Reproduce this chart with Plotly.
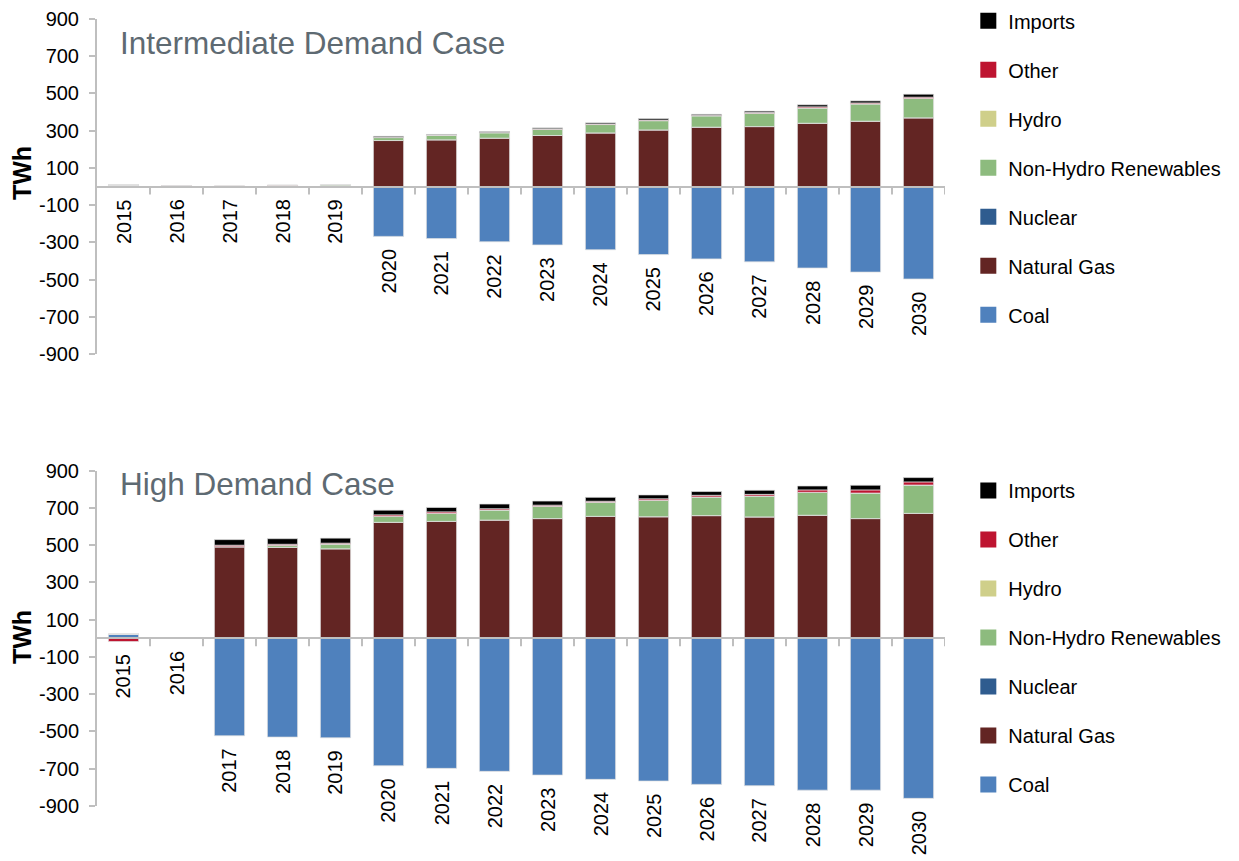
import plotly.graph_objects as go
from plotly.subplots import make_subplots

years = [2015, 2016, 2017, 2018, 2019, 2020, 2021, 2022,
         2023, 2024, 2025, 2026, 2027, 2028, 2029, 2030]
y_ticks = [900, 700, 500, 300, 100, -100, -300, -500, -700, -900]

series_names = ["Coal", "Natural Gas", "Nuclear", "Non-Hydro Renewables", "Hydro", "Other", "Imports"]
series_colors = ["#4F81BD", "#632523", "#2F5C8F", "#8DBB7E", "#CFCF8A", "#BE1430", "#000000"]

# Intermediate Demand Case (TWh)
coal_i = [8, 0, 0, 0, 0, -268, -280, -297, -314, -340, -366, -389, -405, -438, -460, -497]
gas_i = [0, 0, 0, 0, 0, 247, 251, 260, 274, 288, 304, 319, 322, 340, 351, 369]
nuclear_i = [0, 3, 0, 0, 3, 0, 0, 0, 0, 0, 0, 0, 0, 0, 0, 0]
nonhydro_i = [0, 0, 0, 4, 6, 16, 25, 29, 34, 45, 50, 61, 72, 82, 93, 104]
hydro_i = [0, 0, 0, 0, 0, 0, 0, 0, 0, 0, 0, 0, 0, 0, 0, 0]
other_i = [-3, 2, 3, 3, -2, 2, 1, 2, 2, 3, 3, 3, 4, 6, 5, 7]
imports_i = [0, 0, 0, 0, 0, 5, 3, 4, 5, 6, 8, 5, 7, 11, 11, 16]

# High Demand Case (TWh)
coal_h = [22, 0, -523, -530, -534, -684, -698, -714, -734, -757, -766, -784, -791, -815, -815, -859]
gas_h = [0, 0, 492, 489, 481, 623, 628, 635, 643, 655, 653, 659, 652, 661, 643, 671]
nuclear_h = [0, 0, 0, 0, 0, 0, 0, 0, 0, 0, 0, 0, 0, 0, 0, 0]
nonhydro_h = [0, 0, 0, 10, 25, 32, 43, 54, 66, 75, 88, 100, 112, 123, 137, 152]
hydro_h = [0, 0, 0, 0, 0, 0, 0, 0, 0, 0, 0, 0, 0, 0, 0, 0]
other_h = [-17, 4, 8, 6, 5, 8, 8, 7, 6, 6, 8, 9, 9, 13, 17, 17]
imports_h = [0, 0, 30, 30, 27, 25, 24, 25, 22, 21, 21, 20, 22, 21, 25, 23]

panels = [
    ("Intermediate Demand Case", [coal_i, gas_i, nuclear_i, nonhydro_i, hydro_i, other_i, imports_i]),
    ("High Demand Case", [coal_h, gas_h, nuclear_h, nonhydro_h, hydro_h, other_h, imports_h]),
]

W, H = 1239, 861
ML, MR, MT, MB = 97, 294, 19, 55
plot_w = W - ML - MR
plot_h = H - MT - MB
top_dom = [(806 - 354) / plot_h, 1.0]
bot_dom = [0.0, (806 - 470.7) / plot_h]
Y_RANGE = [-900, 900]

FONT = "Liberation Sans, Arial, sans-serif"
GREY = "#BFBFBF"
TICK_PX = 8

fig = make_subplots(rows=2, cols=1)

for p, (title, data) in enumerate(panels):
    row = p + 1
    dom = top_dom if p == 0 else bot_dom
    units_per_px = (Y_RANGE[1] - Y_RANGE[0]) / ((dom[1] - dom[0]) * plot_h)
    legend_id = "legend" if p == 0 else "legend2"
    for name, color, vals in zip(series_names, series_colors, data):
        fig.add_trace(go.Bar(x=years, y=vals, name=name, marker_color=color,
                             marker_line=dict(color="rgba(225,225,225,0.9)", width=0.8),
                             showlegend=False), row=row, col=1)
    # x-axis tick marks on the boundaries between years, hanging below the zero line
    tick_x, tick_y = [], []
    for yr in years:
        tick_x += [yr + 0.5, yr + 0.5, None]
        tick_y += [0, -TICK_PX * units_per_px, None]
    fig.add_trace(go.Scatter(x=tick_x, y=tick_y, mode="lines",
                             line=dict(color=GREY, width=2), hoverinfo="skip",
                             showlegend=False, cliponaxis=False), row=row, col=1)
    # legend entries (larger square swatches), listed top-down as in the reference
    for name, color in reversed(list(zip(series_names, series_colors))):
        fig.add_trace(go.Scatter(x=[years[0]], y=[None], mode="markers", name=name,
                                 marker=dict(symbol="square", size=20, color=color),
                                 legend=legend_id, legendgroup=f"{legend_id}-{name}",
                                 hoverinfo="skip", showlegend=True), row=row, col=1)
    xa = "x" if p == 0 else "x2"
    ya = "y" if p == 0 else "y2"
    for k, yr in enumerate(years):
        # year labels below each bar's lowest point
        neg = sum(min(0, d[k]) for d in data)
        fig.add_annotation(x=yr, y=min(0, neg), xref=xa, yref=ya, text=str(yr),
                           textangle=-90, showarrow=False, xanchor="center", yanchor="top",
                           yshift=-10, font=dict(family=FONT, size=20, color="#000000"))
    # panel title
    fig.add_annotation(x=(118 - ML) / plot_w, y=0.928 if p == 0 else 0.960,
                       xref=f"{xa} domain", yref=f"{ya} domain", text=title, showarrow=False,
                       xanchor="left", yanchor="middle",
                       font=dict(family=FONT, size=31.5, color="#5E6A72"))
    # TWh label
    fig.add_annotation(x=(22 - ML) / plot_w, y=0.540 if p == 0 else 0.504,
                       xref=f"{xa} domain", yref=f"{ya} domain", text="<b>TWh</b>",
                       textangle=-90, showarrow=False, xanchor="center", yanchor="middle",
                       font=dict(family=FONT, size=25, color="#000000"))

for p, dom in enumerate([top_dom, bot_dom]):
    sfx = "" if p == 0 else "2"
    fig.update_layout({
        f"xaxis{sfx}": dict(type="linear", range=[years[0] - 0.5, years[-1] + 0.5],
                            anchor="free", position=(dom[0] + dom[1]) / 2, domain=[0, 1],
                            showline=True, linecolor=GREY, linewidth=2, ticks="",
                            showticklabels=False, showgrid=False, zeroline=False),
        f"yaxis{sfx}": dict(domain=dom, range=Y_RANGE, tickvals=y_ticks,
                            ticktext=[str(v) for v in y_ticks],
                            showline=True, linecolor=GREY, linewidth=2,
                            ticks="outside", ticklen=6, tickwidth=2, tickcolor=GREY,
                            showgrid=False, zeroline=False, ticklabelstandoff=6,
                            tickfont=dict(family=FONT, size=20, color="#000000")),
    })

legend_common = dict(xanchor="left", yanchor="top", bgcolor="rgba(0,0,0,0)",
                     font=dict(family=FONT, size=20, color="#000000"),
                     traceorder="grouped", tracegroupgap=20, itemwidth=30)
fig.update_layout(
    width=W, height=H,
    margin=dict(l=ML, r=MR, t=MT, b=MB, autoexpand=False),
    plot_bgcolor="white", paper_bgcolor="white",
    barmode="relative", bargap=0.43,
    legend=dict(x=1.0275, y=1.0225, **legend_common),
    legend2=dict(x=1.0275, y=(806 - 474) / plot_h + 0.0038, **legend_common),
)

fig.write_html("out.html", config={"displayModeBar": False},
               post_script="document.body.style.margin='0';")
